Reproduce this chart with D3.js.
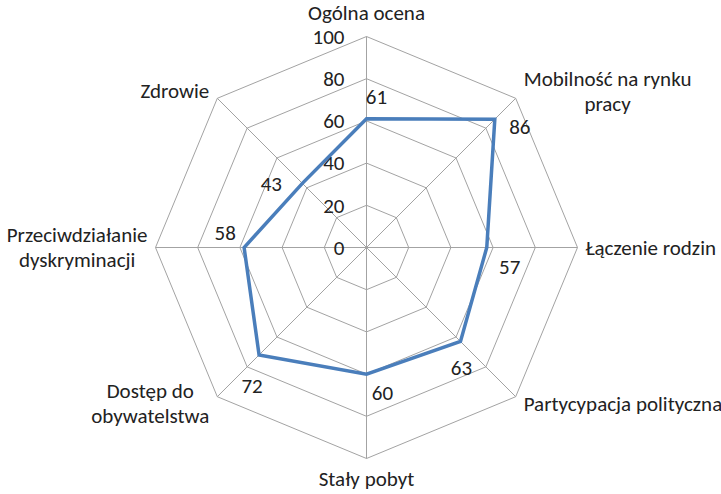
<!DOCTYPE html>
<html>
<head>
<meta charset="utf-8">
<script src="https://cdn.jsdelivr.net/npm/d3@7"></script>
<style>
  body { margin: 0; background: #fff; }
  text { font-family: Carlito, "Open Sans", sans-serif; fill: #222; }
</style>
</head>
<body>
<script>
// chart values
const categories = ["Ogólna ocena", "Mobilność na rynku pracy", "Łączenie rodzin", "Partycypacja polityczna",
  "Stały pobyt", "Dostęp do obywatelstwa", "Przeciwdziałanie dyskryminacji", "Zdrowie"];
const categoryLines = [["Ogólna ocena"], ["Mobilność na rynku", "pracy"], ["Łączenie rodzin"], ["Partycypacja polityczna"],
  ["Stały pobyt"], ["Dostęp do", "obywatelstwa"], ["Przeciwdziałanie", "dyskryminacji"], ["Zdrowie"]];
const values = [61, 86, 57, 63, 60, 72, 58, 43];
const ticks = [0, 20, 40, 60, 80, 100];

// where excel put the data labels, relative to each point
const labelOffsets = [[10, -22], [25, 7], [23, 19], [1, 26], [16, 19], [-7, 31], [-19, -15], [-31, 0]];

const width = 721, height = 494;
const cx = 366.5, cy = 247.5;
const fontSize = 21;

const svg = d3.select("body").append("svg")
  .attr("width", width)
  .attr("height", height);

const g = svg.append("g").attr("transform", "translate(" + cx + "," + cy + ")");

const r = d3.scaleLinear().domain([0, 100]).range([0, 211]);
const step = 2 * Math.PI / categories.length;
const angle = i => i * step;

// x/y from angle (0 = up, clockwise)
function pos(a, rad) {
  return [Math.sin(a) * rad, -Math.cos(a) * rad];
}

// grid rings
const ring = d3.lineRadial()
  .angle((d, i) => angle(i))
  .radius(d => r(d))
  .curve(d3.curveLinearClosed);

g.selectAll(".ring")
  .data(ticks.filter(t => t > 0))
  .join("path")
  .attr("class", "ring")
  .attr("d", t => ring(categories.map(() => t)))
  .attr("fill", "none")
  .attr("stroke", "#a3a3a3")
  .attr("stroke-width", 1);

// spokes
g.selectAll(".spoke")
  .data(categories)
  .join("line")
  .attr("class", "spoke")
  .attr("x1", 0).attr("y1", 0)
  .attr("x2", (d, i) => pos(angle(i), r(100))[0])
  .attr("y2", (d, i) => pos(angle(i), r(100))[1])
  .attr("stroke", "#a3a3a3")
  .attr("stroke-width", 1);

// tick labels
g.selectAll(".tick")
  .data(ticks)
  .join("text")
  .attr("class", "tick")
  .attr("x", -22)
  .attr("y", t => -r(t))
  .attr("dy", "0.35em")
  .attr("text-anchor", "end")
  .style("font-size", fontSize + "px")
  .text(t => t);

// the series
g.append("path")
  .attr("d", ring(values))
  .attr("fill", "none")
  .attr("stroke", "#4a7ebb")
  .attr("stroke-width", 3.5)
  .attr("stroke-linejoin", "miter");

// data labels
g.selectAll(".val")
  .data(values)
  .join("text")
  .attr("class", "val")
  .attr("x", (d, i) => pos(angle(i), r(d))[0] + labelOffsets[i][0])
  .attr("y", (d, i) => pos(angle(i), r(d))[1] + labelOffsets[i][1])
  .attr("dy", "0.35em")
  .attr("text-anchor", "middle")
  .style("font-size", fontSize + "px")
  .text(d => d);

// category labels
const lineH = 25, gap = 8;
categoryLines.forEach((lines, i) => {
  const a = angle(i);
  const v = pos(a, r(100));
  const sx = Math.round(Math.sin(a) * 1000) / 1000;
  const cs = Math.cos(a);
  const t = g.append("text").style("font-size", fontSize + "px");
  const spans = lines.map(l => t.append("tspan").text(l));
  const widths = spans.map(s => s.node().getComputedTextLength());
  const w = d3.max(widths);

  let midX, firstBase;
  if (sx === 0) {
    midX = v[0];
    firstBase = cs > 0 ? v[1] - 17 : v[1] + 27;
  } else {
    midX = sx > 0 ? v[0] + gap + w / 2 : v[0] - gap - w / 2;
    const midY = v[1] - (Math.abs(cs) > 0.1 ? Math.sign(cs) * 7 : 0);
    firstBase = midY - (lines.length - 1) * lineH / 2 + 7;
  }
  spans.forEach((s, k) => {
    s.attr("x", midX).attr("y", firstBase + k * lineH).attr("text-anchor", "middle");
  });
});
</script>
</body>
</html>
